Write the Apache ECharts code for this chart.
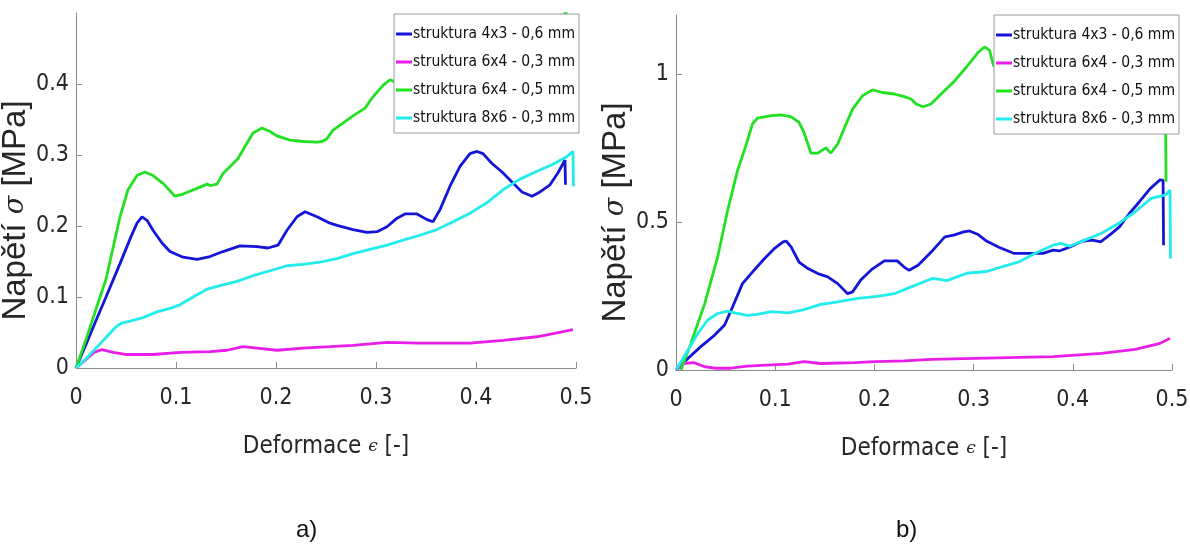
<!DOCTYPE html>
<html>
<head>
<meta charset="utf-8">
<script src="https://cdn.jsdelivr.net/npm/echarts@6/dist/echarts.min.js"></script>
<style>
  html, body { margin: 0; padding: 0; background: #fff; }
  #chart { width: 1190px; height: 545px; }
</style>
</head>
<body>
<div id="chart"></div>
<script>
// legend names (same for both panels)
const names = [
  "struktura 4x3 - 0,6 mm",
  "struktura 6x4 - 0,3 mm",
  "struktura 6x4 - 0,5 mm",
  "struktura 8x6 - 0,3 mm",
]
const colors = ["#1515d8", "#e81ee8", "#22e022", "#22ecec"]

// panel a) [deformace, napeti]
const blueA = [[0,0],[0.01,0.033],[0.02,0.067],[0.03,0.1],[0.044,0.147],[0.055,0.185],[0.061,0.204],[0.066,0.213],[0.071,0.208],[0.077,0.194],[0.086,0.176],[0.094,0.164],[0.107,0.156],[0.121,0.153],[0.134,0.157],[0.147,0.164],[0.164,0.172],[0.181,0.171],[0.192,0.169],[0.202,0.173],[0.211,0.194],[0.221,0.213],[0.229,0.22],[0.241,0.213],[0.254,0.204],[0.261,0.201],[0.277,0.195],[0.291,0.191],[0.301,0.192],[0.311,0.199],[0.321,0.211],[0.329,0.217],[0.341,0.217],[0.351,0.209],[0.357,0.206],[0.364,0.223],[0.374,0.256],[0.384,0.284],[0.394,0.302],[0.401,0.305],[0.407,0.302],[0.416,0.288],[0.426,0.276],[0.436,0.262],[0.446,0.248],[0.456,0.242],[0.464,0.248],[0.474,0.258],[0.482,0.275],[0.489,0.293],[0.4895,0.258]]
const magentaA = [[0,0],[0.01,0.012],[0.018,0.022],[0.026,0.026],[0.037,0.022],[0.051,0.019],[0.077,0.019],[0.104,0.022],[0.134,0.023],[0.151,0.025],[0.167,0.03],[0.181,0.028],[0.201,0.025],[0.227,0.028],[0.254,0.03],[0.277,0.032],[0.311,0.036],[0.344,0.035],[0.394,0.035],[0.427,0.039],[0.461,0.044],[0.497,0.054]]
const greenA = [[0,0],[0.01,0.04],[0.02,0.083],[0.03,0.125],[0.044,0.213],[0.052,0.251],[0.061,0.271],[0.069,0.276],[0.077,0.271],[0.087,0.26],[0.099,0.242],[0.107,0.245],[0.121,0.253],[0.131,0.259],[0.134,0.257],[0.141,0.259],[0.147,0.274],[0.155,0.285],[0.162,0.295],[0.169,0.312],[0.177,0.331],[0.186,0.338],[0.194,0.333],[0.201,0.327],[0.214,0.321],[0.227,0.319],[0.241,0.318],[0.246,0.319],[0.251,0.323],[0.257,0.335],[0.267,0.345],[0.277,0.355],[0.289,0.366],[0.297,0.382],[0.307,0.398],[0.314,0.406],[0.319,0.403],[0.33,0.41],[0.36,0.43],[0.4,0.45],[0.44,0.47],[0.47,0.485],[0.485,0.495],[0.49,0.5],[0.493,0.49]]
const cyanA = [[0,0],[0.01,0.013],[0.02,0.028],[0.03,0.043],[0.04,0.058],[0.045,0.063],[0.054,0.066],[0.067,0.071],[0.081,0.079],[0.094,0.084],[0.104,0.089],[0.117,0.1],[0.131,0.111],[0.144,0.116],[0.161,0.122],[0.177,0.13],[0.194,0.137],[0.211,0.144],[0.227,0.146],[0.244,0.149],[0.261,0.154],[0.277,0.161],[0.294,0.167],[0.311,0.173],[0.327,0.18],[0.344,0.187],[0.361,0.195],[0.377,0.206],[0.394,0.218],[0.411,0.233],[0.427,0.251],[0.444,0.266],[0.461,0.277],[0.477,0.287],[0.491,0.298],[0.497,0.305],[0.4975,0.256]]

// panel b)
const blueB = [[0,0],[0.012,0.039],[0.025,0.079],[0.039,0.118],[0.049,0.152],[0.057,0.213],[0.067,0.292],[0.077,0.331],[0.089,0.376],[0.099,0.41],[0.108,0.433],[0.111,0.436],[0.116,0.416],[0.124,0.365],[0.133,0.343],[0.143,0.326],[0.153,0.315],[0.163,0.292],[0.173,0.258],[0.178,0.264],[0.186,0.303],[0.197,0.339],[0.21,0.369],[0.223,0.369],[0.23,0.348],[0.235,0.337],[0.244,0.354],[0.259,0.405],[0.271,0.45],[0.28,0.456],[0.29,0.467],[0.296,0.47],[0.304,0.459],[0.313,0.436],[0.326,0.414],[0.341,0.394],[0.356,0.394],[0.37,0.394],[0.38,0.405],[0.387,0.403],[0.397,0.416],[0.41,0.436],[0.42,0.439],[0.428,0.433],[0.437,0.456],[0.447,0.484],[0.457,0.529],[0.467,0.568],[0.478,0.613],[0.488,0.643],[0.491,0.641],[0.4915,0.422]]
const magentaB = [[0,0],[0.008,0.022],[0.018,0.025],[0.029,0.011],[0.039,0.006],[0.055,0.006],[0.072,0.013],[0.096,0.017],[0.113,0.02],[0.129,0.028],[0.146,0.022],[0.18,0.025],[0.2,0.028],[0.23,0.031],[0.257,0.036],[0.313,0.04],[0.38,0.045],[0.429,0.056],[0.463,0.07],[0.488,0.09],[0.498,0.107]]
const greenB = [[0.005,0],[0.015,0.09],[0.029,0.225],[0.042,0.382],[0.052,0.539],[0.062,0.674],[0.071,0.764],[0.077,0.831],[0.082,0.851],[0.096,0.86],[0.106,0.862],[0.116,0.856],[0.124,0.837],[0.129,0.803],[0.133,0.764],[0.136,0.733],[0.143,0.733],[0.151,0.751],[0.156,0.733],[0.163,0.764],[0.17,0.82],[0.178,0.882],[0.188,0.927],[0.198,0.947],[0.208,0.938],[0.22,0.933],[0.23,0.924],[0.237,0.916],[0.242,0.899],[0.249,0.89],[0.257,0.899],[0.266,0.929],[0.28,0.974],[0.293,1.025],[0.305,1.075],[0.311,1.092],[0.316,1.081],[0.32,1.03],[0.33,1.0],[0.37,1.02],[0.42,1.06],[0.46,1.1],[0.49,1.12],[0.493,1.1],[0.494,0.636]]
const cyanB = [[0,0],[0.012,0.067],[0.022,0.124],[0.032,0.169],[0.042,0.191],[0.052,0.199],[0.062,0.191],[0.072,0.185],[0.082,0.188],[0.096,0.197],[0.113,0.193],[0.129,0.204],[0.146,0.222],[0.163,0.23],[0.183,0.242],[0.203,0.249],[0.22,0.258],[0.237,0.281],[0.246,0.293],[0.259,0.31],[0.273,0.302],[0.293,0.327],[0.313,0.333],[0.33,0.35],[0.346,0.366],[0.363,0.396],[0.38,0.422],[0.388,0.428],[0.397,0.419],[0.412,0.439],[0.429,0.462],[0.446,0.495],[0.463,0.535],[0.479,0.58],[0.486,0.586],[0.493,0.591],[0.498,0.608],[0.4985,0.377]]

const NARROW = '"DejaVu Sans Condensed", "Liberation Sans Narrow", sans-serif'
const AXIS_GREY = "#8c8c8c"
const TXT = "#262626"

function xAxisOf(gridIndex) {
  return {
    type: "value", gridIndex, min: 0, max: 0.5, interval: 0.1,
    axisLine: { lineStyle: { color: AXIS_GREY } },
    axisTick: { inside: true, length: 6, lineStyle: { color: AXIS_GREY } },
    splitLine: { show: false },
    axisLabel: { color: TXT, fontFamily: NARROW, fontSize: 23, margin: 19 },
    name: "Deformace {e|ϵ} [-]",
    nameLocation: "middle",
    nameGap: 67,
    nameTextStyle: {
      color: TXT, fontFamily: NARROW, fontSize: 24,
      rich: { e: { fontFamily: "DejaVu Serif", fontStyle: "italic", fontSize: 17, color: TXT } },
    },
  }
}

function yAxisOf(gridIndex, max, interval) {
  return {
    type: "value", gridIndex, min: 0, max, interval,
    axisLine: { show: true, lineStyle: { color: AXIS_GREY } },
    axisTick: { show: true, inside: true, length: 6, lineStyle: { color: AXIS_GREY } },
    splitLine: { show: false },
    axisLabel: { color: TXT, fontFamily: NARROW, fontSize: 23, margin: 7, showMaxLabel: false },
    name: "Napětí {s|σ} [MPa]",
    nameLocation: "middle",
    nameGap: 35,
    nameRotate: 90,
    nameTextStyle: {
      color: TXT, fontFamily: '"Liberation Sans", Arial, sans-serif', fontSize: 33,
      padding: [0, 40, 0, 0],
      rich: { s: { fontFamily: "DejaVu Serif", fontStyle: "italic", fontSize: 27, color: TXT } },
    },
  }
}

function legendOf(left, top) {
  return {
    left, top,
    orient: "vertical",
    data: names,
    icon: "rect",
    itemWidth: 16,
    itemHeight: 3,
    itemGap: 0,
    padding: [6, 4, 1, 2],
    backgroundColor: "#fff",
    borderColor: "#9a9a9a",
    borderWidth: 1,
    borderRadius: 0,
    selectedMode: false,
    textStyle: { color: "#111", fontFamily: NARROW, fontSize: 15.5, lineHeight: 28, padding: [0, 0, 0, -4] },
  }
}

function lineSeries(name, data, idx, color) {
  return {
    type: "line", name, data,
    xAxisIndex: idx, yAxisIndex: idx,
    symbol: "none", smooth: false,
    color,
    lineStyle: { width: 2.8, color },
    animation: false,
  }
}

const chart = echarts.init(document.getElementById("chart"))
chart.setOption({
  backgroundColor: "#fff",
  animation: false,
  grid: [
    { left: 76, top: 13, width: 500, height: 355, outerBoundsMode: "none", containLabel: false },
    { left: 676, top: 15, width: 496, height: 355, outerBoundsMode: "none", containLabel: false },
  ],
  xAxis: [xAxisOf(0), xAxisOf(1)],
  yAxis: [yAxisOf(0, 0.5, 0.1), yAxisOf(1, 1.2, 0.5)],
  legend: [legendOf(394, 14), legendOf(994, 15)],
  series: [
    lineSeries(names[0], blueA, 0, colors[0]),
    lineSeries(names[1], magentaA, 0, colors[1]),
    lineSeries(names[2], greenA, 0, colors[2]),
    lineSeries(names[3], cyanA, 0, colors[3]),
    lineSeries(names[0], blueB, 1, colors[0]),
    lineSeries(names[1], magentaB, 1, colors[1]),
    lineSeries(names[2], greenB, 1, colors[2]),
    lineSeries(names[3], cyanB, 1, colors[3]),
  ],
  graphic: [
    { type: "text", left: 296, top: 518, style: { text: "a)", font: '24px "Liberation Sans", sans-serif', fill: "#111" } },
    { type: "text", left: 896, top: 518, style: { text: "b)", font: '24px "Liberation Sans", sans-serif', fill: "#111" } },
  ],
})
</script>
</body>
</html>
